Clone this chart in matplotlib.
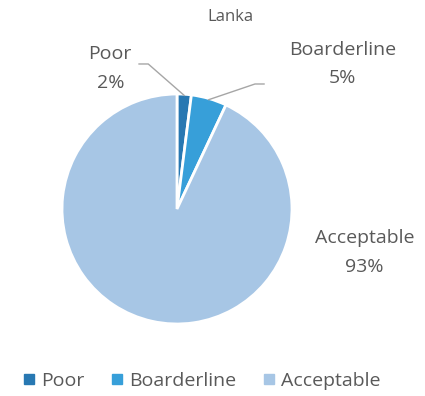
import numpy as np
import matplotlib

matplotlib.use("Agg")
import matplotlib.pyplot as plt
from matplotlib.lines import Line2D

# --- data ---
categories = ["Poor", "Boarderline", "Acceptable"]
shares = [2, 5, 93]
colors = ["#2878B2", "#379FD9", "#A7C6E5"]

title = "Lanka"
text_color = "#595959"
plt.rcParams["font.family"] = ["Open Sans", "DejaVu Sans"]

fig = plt.figure(figsize=(4.25, 3.96), dpi=100)
# pie centre ~ (177, 209) px, radius ~115 px
ax = fig.add_axes([(177 - 125) / 425, 1 - (209 + 125) / 396, 250 / 425, 250 / 396])
wedges, _ = ax.pie(shares, colors=colors, startangle=90, counterclock=False,
                   radius=1.0, wedgeprops=dict(edgecolor="white", linewidth=2))
ax.set_xlim(-125 / 115, 125 / 115)
ax.set_ylim(-125 / 115, 125 / 115)
ax.set_aspect("equal")
ax.axis("off")

# labels with leader lines (label positions in data units of the pie)
label_pos = {
    "Poor": (-0.58, 1.22),
    "Boarderline": (1.44, 1.26),
    "Acceptable": (1.63, -0.38),
}
elbow = {
    "Poor": [(-0.33, 1.261), (-0.25, 1.261)],
    "Boarderline": [(0.757, 1.087), (0.678, 1.087)],
}

angles = 90 - np.cumsum([0] + shares[:-1]) * 3.6 - np.array(shares) * 1.8
for cat, val, ang in zip(categories, shares, angles):
    lx, ly = label_pos[cat]
    ax.text(lx, ly, f"{cat}\n{val}%", ha="center", va="center", fontsize=14,
            color=text_color, linespacing=1.75, clip_on=False)
    if cat in elbow:
        tip = (0.99 * np.cos(np.radians(ang)), 0.99 * np.sin(np.radians(ang)))
        pts = elbow[cat] + [tip]
        xs, ys = zip(*pts)
        ax.plot(xs, ys, color="#A6A6A6", lw=1.0, clip_on=False)

fig.text(230 / 425, 1 - 17 / 396, title, ha="center", va="center",
         fontsize=12, color=text_color)

handles = [Line2D([], [], marker="s", linestyle="none", markersize=6.5,
                  markerfacecolor=c, markeredgecolor=c) for c in colors]
fig.legend(handles, categories, loc="center", bbox_to_anchor=(0.473, 1 - 381 / 396),
           ncol=3, frameon=False, fontsize=14, handletextpad=0.2,
           columnspacing=1.3, labelcolor=text_color, handlelength=0.8)

fig.savefig("out.png", dpi=100)
